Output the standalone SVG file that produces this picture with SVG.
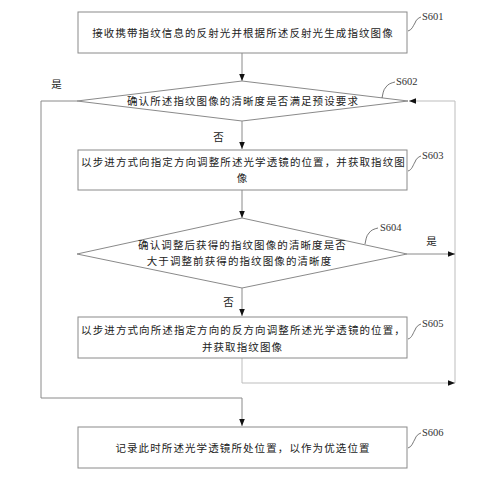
<svg xmlns="http://www.w3.org/2000/svg" width="500" height="477" viewBox="0 0 500 477">
<defs>
<marker id="ah" viewBox="0 0 10 10" refX="10" refY="5" markerWidth="7" markerHeight="7" orient="auto" markerUnits="userSpaceOnUse">
<path d="M0,1 L10,5 L0,9 Z" fill="#111"/>
</marker>
<style>
.box{fill:#fff;stroke:#8a8a8a;stroke-width:1}
.t{font-family:"Noto Sans CJK SC","Liberation Serif",serif;font-size:10.5px;letter-spacing:1.1px;fill:#222;text-anchor:middle}
.lbl{font-family:"Liberation Serif",serif;font-size:10.5px;fill:#333}
.sq{fill:none;stroke:#555;stroke-width:0.8}
.c{fill:none;stroke:#8a8a8a;stroke-width:1}
.cl{fill:none;stroke:#bdbdbd;stroke-width:1}
</style>
</defs>
<rect width="500" height="477" fill="#fff"/>
<g id="connectors">
<path class="c" d="M242,53 V81" marker-end="url(#ah)"/>
<path class="c" d="M242,121 V149" marker-end="url(#ah)"/>
<path class="c" d="M242,190 V218" marker-end="url(#ah)"/>
<path class="c" d="M242,288 V316" marker-end="url(#ah)"/>
<path class="c" d="M77,101 H41 V398 H242 V426" marker-end="url(#ah)"/>
<path class="cl" d="M455,383 V101 H409" marker-end="url(#ah)"/>
<path class="c" d="M407,254 H455" marker-end="url(#ah)"/>
<path class="cl" d="M242,358 V383 H455" marker-end="url(#ah)"/>
<text class="t" x="57" y="88">是</text>
<text class="t" x="219" y="141">否</text>
<text class="t" x="432" y="245">是</text>
<text class="t" x="229" y="306">否</text>
</g>
<g id="S601">
<rect class="box" x="78" y="12" width="329" height="41"/>
<text class="t" x="243" y="37">接收携带指纹信息的反射光并根据所述反射光生成指纹图像</text>
<path class="sq" d="M408,31 C412,30 413,26 415,23 C416,20 418,18 421,17"/>
<text class="lbl" x="422" y="20">S601</text>
</g>
<g id="S602">
<polygon class="box" points="242,81 408,101 242,121 77,101"/>
<text class="t" x="243" y="105">确认所述指纹图像的清晰度是否满足预设要求</text>
<path class="sq" d="M382,98 C383,94 383,90 386,87 C388,84 391,83 395,82"/>
<text class="lbl" x="396" y="85">S602</text>
</g>
<g id="S603">
<rect class="box" x="78" y="150" width="329" height="40"/>
<text class="t" x="243.5" y="166">以步进方式向指定方向调整所述光学透镜的位置，并获取指纹图</text>
<text class="t" x="242.5" y="182">像</text>
<path class="sq" d="M408,171 C412,170 413,165 415,162 C416,159 418,157 421,156"/>
<text class="lbl" x="422" y="159">S603</text>
</g>
<g id="S604">
<polygon class="box" points="242,218 407,254 242,288 77,254"/>
<text class="t" x="242.5" y="249">确认调整后获得的指纹图像的清晰度是否</text>
<text class="t" x="239.5" y="265">大于调整前获得的指纹图像的清晰度</text>
<path class="sq" d="M365,244 C366,240 366,236 369,233 C371,230 374,229 378,228"/>
<text class="lbl" x="380" y="231">S604</text>
</g>
<g id="S605">
<rect class="box" x="78" y="317" width="329" height="41"/>
<text class="t" x="243.5" y="334">以步进方式向所述指定方向的反方向调整所述光学透镜的位置，</text>
<text class="t" x="242.5" y="351">并获取指纹图像</text>
<path class="sq" d="M408,339 C412,338 413,333 415,330 C416,327 418,325 421,324"/>
<text class="lbl" x="422" y="327">S605</text>
</g>
<g id="S606">
<rect class="box" x="78" y="427" width="329" height="41"/>
<text class="t" x="243" y="452">记录此时所述光学透镜所处位置，以作为优选位置</text>
<path class="sq" d="M408,448 C412,447 413,442 415,439 C416,436 418,434 421,433"/>
<text class="lbl" x="422" y="436">S606</text>
</g>
</svg>
